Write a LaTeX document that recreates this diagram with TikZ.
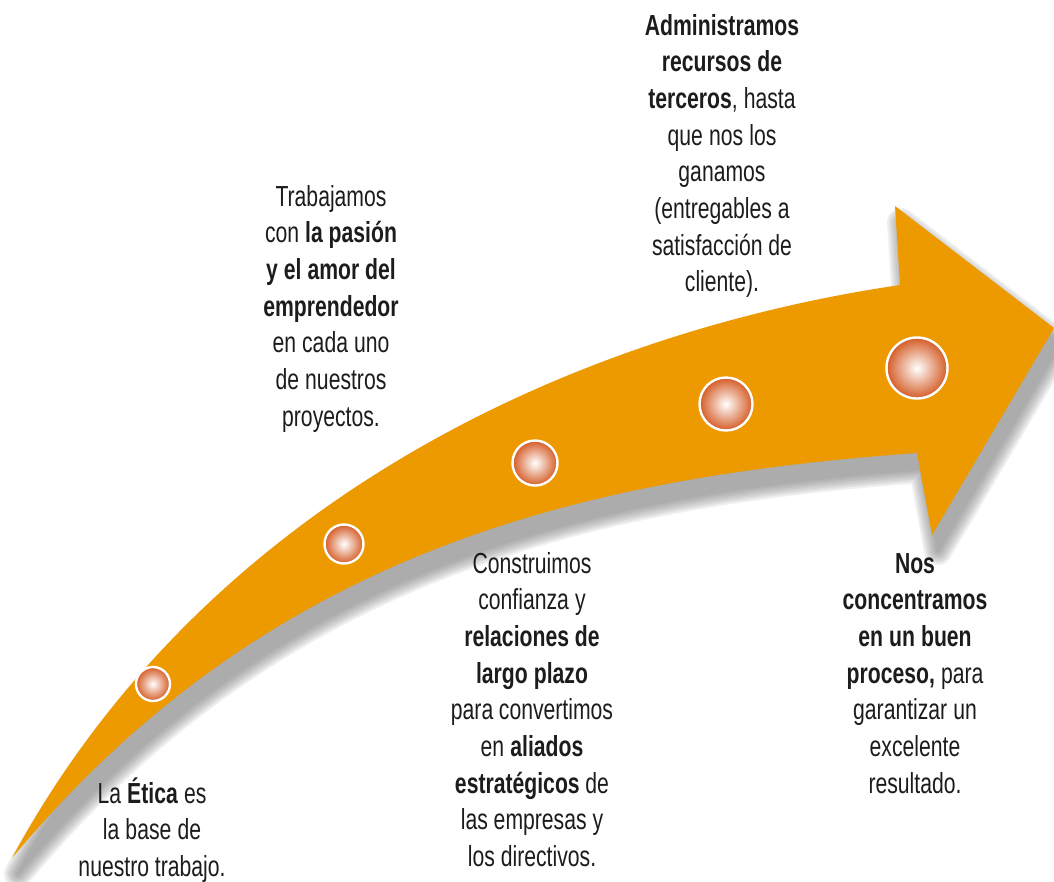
\documentclass[tikz,border=0pt]{standalone}
\usepackage{fontspec}
\setmainfont{Liberation Sans}[FakeStretch=0.73]
\definecolor{arroworange}{RGB}{237,153,0}
\definecolor{beadorange}{RGB}{212,92,38}
\definecolor{shadowink}{RGB}{110,110,110}
\definecolor{shadowcore}{RGB}{172,172,172}
\definecolor{inkgray}{RGB}{30,27,28}

% outline of the curved arrow: tail point, upper edge, head, lower edge
\newcommand\arrowoutline{(12,858) .. controls (200,510) and (560,335) .. (900,285)
  -- (895,206) -- (1054,328) -- (932,535) -- (917,453)
  .. controls (567,478) and (262,558) .. cycle}

\tikzset{
  bead/.style={circle, draw=white, line width=2.4pt, inner sep=0pt,
    inner color=white, outer color=beadorange},
  blurb/.style={font=\fontsize{29}{36.7}\selectfont, text=inkgray,
    text width=240pt, align=center, anchor=base, inner sep=0pt,
    % tighter word spaces for the condensed face
    execute at begin node={\spaceskip=5pt plus 1pt minus 1pt\xspaceskip=6pt\relax}}
}

\begin{document}
\begin{tikzpicture}[x=1pt,y=-1pt]
\useasboundingbox (0,0) rectangle (1054,881);

% soft drop shadow under the arrow
\begin{scope}[shift={(6,16)}]
  \foreach \w in {28,24,20,16,12,8,4}
    \draw[shadowink, opacity=0.11, line width=\w pt, line join=round] \arrowoutline;
  \fill[shadowcore] \arrowoutline;
\end{scope}

% the arrow itself
\fill[arroworange] \arrowoutline;

% beads along the arrow
\node[bead, minimum size=34pt] (b1) at (153,684) {};
\node[bead, minimum size=39pt] (b2) at (344,544) {};
\node[bead, minimum size=45pt] (b3) at (535,463) {};
\node[bead, minimum size=53pt] (b4) at (726,404) {};
\node[bead, minimum size=61pt] (b5) at (917,368) {};

% texts
\node[blurb] (t1) at (152,803) {La \textbf{Ética} es\\la base de\\nuestro trabajo.};
\node[blurb] (t2) at (331,206) {Trabajamos\\con \textbf{la pasión}\\\textbf{y el amor del}\\\textbf{emprendedor}\\en cada uno\\de nuestros\\proyectos.};
\node[blurb] (t3) at (722,35) {\textbf{Administramos}\\\textbf{recursos de}\\\textbf{terceros}, hasta\\que nos los\\ganamos\\(entregables a\\satisfacción de\\cliente).};
\node[blurb] (t4) at (532,573) {Construimos\\confianza y\\\textbf{relaciones de}\\\textbf{largo plazo}\\para convertimos\\en \textbf{aliados}\\\textbf{estratégicos} de\\las empresas y\\los directivos.};
\node[blurb] (t5) at (915,573) {\textbf{Nos}\\\textbf{concentramos}\\\textbf{en un buen}\\\textbf{proceso,} para\\garantizar un\\excelente\\resultado.};
\end{tikzpicture}
\end{document}
